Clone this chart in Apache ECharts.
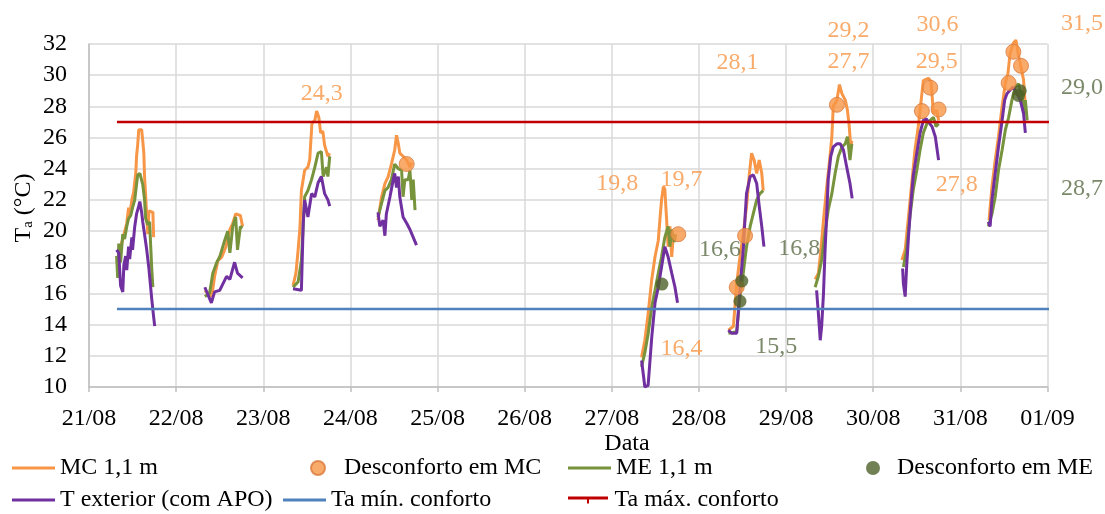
<!DOCTYPE html>
<html>
<head>
<meta charset="utf-8">
<script src="https://cdn.jsdelivr.net/npm/echarts@6/dist/echarts.min.js"></script>
<style>
html,body{margin:0;padding:0;background:#fff;}
#chart{width:1105px;height:514px;}
</style>
</head>
<body>
<div id="chart"></div>
<script>
// x tick labels (one per day, x values are hours since 21/08 00:00)
const dateLabels = ['21/08','22/08','23/08','24/08','25/08','26/08','27/08','28/08','29/08','30/08','31/08','01/09'];
// day index of each measured segment
const segDays = [0,1,2,3,6,7,8,9,10];

// MC 1,1 m : [hour of day, Ta] per segment
const mcSegs = [
  [[7.6,18.0],[8.2,18.3],[8.7,19.0],[9.3,19.5],[9.8,19.4],[10.4,20.5],[10.9,21.5],[11.2,21.0],[11.8,22.0],[12.3,22.5],[12.9,23.8],[13.1,24.8],[13.4,25.5],[13.7,26.5],[14.2,26.6],[14.5,26.5],[14.8,25.8],[15.1,25.0],[15.3,23.5],[15.6,22.3],[15.9,21.0],[16.2,19.8],[16.5,21.3],[17.0,21.4],[17.6,21.2],[17.8,19.6]],
  [[7.9,16.2],[9.8,15.8],[10.6,17.1],[11.5,18.1],[12.6,18.35],[13.7,19.0],[14.8,20.1],[15.6,20.5],[16.4,21.1],[16.9,21.2],[17.7,21.0],[18.3,20.3]],
  [[8.2,16.5],[9.0,17.3],[9.6,18.8],[10.1,20.2],[10.5,22.6],[11.4,23.9],[12.3,24.1],[12.8,24.6],[13.4,26.9],[14.2,27.1],[14.7,27.7],[15.3,27.3],[15.8,26.3],[16.4,26.4],[16.9,25.5],[17.8,24.8],[18.3,25.0]],
  [[7.6,20.7],[8.6,22.2],[9.5,23.05],[10.4,23.5],[11.3,24.3],[12.2,25.2],[12.7,26.15],[13.2,25.6],[13.6,25.0],[14.5,24.8],[15.5,24.55],[16.4,24.1],[16.9,24.4]],
  [[8.2,11.9],[9.1,13.0],[10.0,14.7],[11.0,16.9],[11.9,18.35],[12.8,19.4],[13.3,20.9],[13.7,22.0],[14.2,22.85],[14.6,22.7],[15.1,20.7],[15.5,19.0],[16.0,20.3],[16.5,18.35],[16.9,19.6],[17.4,19.4]],
  [[8.1,13.65],[9.5,13.9],[9.9,15.15],[10.4,16.65],[11.3,18.35],[12.2,19.85],[13.1,21.55],[13.9,23.7],[14.5,25.0],[15.2,24.55],[15.9,23.7],[16.6,24.55],[17.3,23.7],[17.7,22.6]],
  [[8.0,16.9],[8.9,17.3],[9.5,18.6],[10.3,20.7],[11.2,22.85],[12.1,24.8],[12.6,26.05],[13.0,28.0],[14.0,28.4],[14.7,29.4],[15.4,28.8],[16.3,28.4],[16.9,27.75],[17.4,26.7],[17.8,25.4],[18.1,25.8]],
  [[7.9,18.15],[8.8,18.8],[9.7,20.9],[10.6,23.05],[11.5,25.2],[12.4,26.7],[13.4,28.8],[13.8,29.65],[15.2,29.8],[15.9,29.6],[16.6,27.55],[17.5,27.75],[18.0,27.1]],
  [[7.9,20.7],[8.7,22.85],[9.6,24.55],[10.5,26.05],[11.5,28.0],[12.4,29.5],[13.1,30.1],[13.7,31.4],[14.6,32.05],[15.3,32.25],[15.9,31.4],[16.5,30.75],[17.4,29.7],[17.9,28.0]]
];

// ME 1,1 m
const meSegs = [
  [[7.6,18.4],[7.9,17.0],[8.2,19.2],[8.7,18.0],[9.3,19.8],[9.8,19.5],[10.4,20.3],[10.9,20.8],[11.5,21.0],[12.0,21.5],[12.6,22.0],[13.1,23.0],[13.4,23.6],[14.0,23.7],[14.5,23.7],[14.8,23.0],[15.3,22.0],[15.6,20.8],[16.2,20.4],[16.7,20.6],[17.0,19.0],[17.3,17.5],[17.6,16.4]],
  [[7.9,15.8],[9.2,16.0],[10.1,17.3],[11.2,18.0],[12.0,18.35],[13.1,19.2],[14.2,20.0],[14.8,18.6],[15.6,20.3],[16.4,20.9],[16.9,18.8],[17.7,20.3],[18.3,20.2]],
  [[8.2,16.4],[9.6,16.75],[10.5,18.1],[11.4,22.2],[12.3,22.6],[13.3,23.3],[14.2,24.1],[15.1,25.0],[16.0,25.1],[16.5,23.5],[17.4,24.1],[17.8,23.5],[18.3,24.8]],
  [[7.6,20.9],[8.6,21.8],[9.5,22.6],[10.4,22.8],[11.3,23.3],[12.2,24.3],[13.2,24.0],[14.1,23.9],[14.5,22.2],[15.0,23.3],[15.9,23.3],[16.4,23.9],[16.9,22.0],[17.3,23.3],[17.8,21.35]],
  [[8.2,11.3],[9.1,12.2],[10.0,13.4],[11.0,15.15],[11.9,16.2],[12.8,17.3],[13.7,18.35],[14.6,19.6],[15.5,20.3],[16.0,19.0],[16.5,20.1],[17.2,19.3],[17.6,19.8]],
  [[8.1,13.45],[10.4,13.55],[11.3,15.8],[12.2,17.3],[13.1,19.0],[14.1,20.3],[15.0,21.15],[15.9,22.0],[16.8,22.4],[17.7,22.6]],
  [[8.0,16.4],[8.9,17.1],[9.8,18.15],[10.7,19.85],[11.6,21.35],[12.6,22.4],[13.5,23.7],[14.4,24.8],[15.4,25.4],[16.3,25.6],[16.9,26.05],[17.6,24.55],[18.1,25.6]],
  [[8.3,17.7],[9.2,18.8],[10.1,20.9],[11.0,22.6],[12.0,23.9],[12.9,25.2],[13.8,26.3],[14.8,26.9],[15.7,27.1],[16.6,27.3],[17.3,26.7],[18.0,26.9]],
  [[7.7,20.3],[8.7,21.1],[9.6,22.2],[10.5,23.9],[11.5,25.2],[12.4,26.5],[13.3,27.3],[14.2,28.4],[15.1,29.25],[16.0,29.45],[17.0,28.6],[17.4,27.55],[17.9,28.4],[18.4,27.1]]
];

// T exterior (com APO)
const extSegs = [
  [[7.6,18.8],[8.2,18.6],[8.7,16.5],[9.3,16.1],[9.6,17.8],[10.1,18.4],[10.4,17.5],[10.9,19.0],[11.2,18.2],[11.8,19.6],[12.0,18.8],[12.6,20.3],[13.1,21.1],[13.7,21.6],[14.0,21.9],[14.5,21.2],[14.8,20.6],[15.3,19.8],[15.9,18.8],[16.5,17.6],[16.7,17.1],[17.3,15.6],[17.8,14.5],[18.1,13.9]],
  [[7.9,16.4],[9.7,15.4],[10.6,16.1],[12.0,16.2],[13.9,17.1],[14.8,16.9],[16.1,18.0],[16.9,17.3],[18.3,17.0]],
  [[8.2,16.3],[10.5,16.2],[11.0,20.5],[11.4,22.0],[12.3,20.9],[13.3,22.4],[14.2,22.2],[15.1,23.1],[16.0,23.5],[16.9,22.4],[17.8,22.0],[18.3,21.6]],
  [[7.6,21.2],[8.1,20.3],[9.0,20.7],[9.5,19.7],[9.9,21.1],[10.9,22.2],[11.8,23.3],[12.2,23.7],[12.7,22.8],[13.2,23.5],[13.6,22.2],[14.5,20.9],[15.5,20.5],[16.4,20.1],[17.3,19.6],[18.2,19.1]],
  [[8.2,11.7],[9.1,10.0],[10.0,10.1],[11.0,13.2],[11.9,15.4],[12.8,16.4],[13.7,17.7],[14.6,19.0],[15.5,18.35],[16.5,17.3],[17.4,16.4],[18.1,15.4]],
  [[8.1,13.65],[9.0,13.45],[10.4,13.45],[10.8,14.7],[11.3,16.4],[12.2,18.8],[12.7,20.9],[13.1,22.4],[14.1,23.5],[15.0,23.6],[15.9,23.05],[16.6,21.6],[17.3,20.3],[17.9,19.0]],
  [[8.4,16.2],[8.9,14.7],[9.4,13.0],[9.8,13.9],[10.3,16.0],[10.7,18.6],[11.2,21.1],[11.6,23.3],[12.3,24.8],[13.0,25.4],[14.0,25.6],[14.9,25.6],[15.8,25.2],[16.7,24.1],[17.6,23.05],[18.2,22.1]],
  [[8.1,17.6],[8.3,16.65],[8.8,15.8],[9.2,17.7],[9.7,19.6],[10.3,21.55],[11.0,23.5],[12.0,25.0],[12.9,26.3],[13.8,27.1],[14.6,27.2],[15.2,27.0],[16.2,26.7],[17.1,26.05],[18.0,24.55]],
  [[7.7,20.6],[8.2,20.3],[8.7,22.0],[9.6,23.7],[10.5,25.4],[11.5,27.1],[12.2,28.4],[12.8,28.8],[13.7,29.05],[14.6,29.25],[15.6,28.8],[16.5,28.4],[17.4,27.55],[17.9,26.3]]
];

// discomfort points: [hours since 21/08 00:00, Ta]
const descMC = [[87.5,24.3],[162.3,19.8],[180.7,19.7],[178.4,16.4],[206.0,28.1],[231.7,29.2],[229.4,27.7],[234.0,27.8],[254.6,31.5],[256.7,30.6],[253.3,29.5]];
const descME = [[157.8,16.6],[179.8,16.8],[179.3,15.5],[256.5,29.0],[256.0,28.7]];

// comfort limits
const taMin = 15;
const taMax = 27;
const limitSpan = [7.7, 265.0];

// value annotations
const annText  = ['24,3','19,8','19,7','16,4','16,6','15,5','28,1','16,8','29,2','27,7','30,6','29,5','27,8','31,5','29,0','28,7'];
const annHour  = [64.1,145.5,163.2,163.2,173.8,189.3,178.6,195.6,209.2,209.2,233.7,233.5,239.0,273.5,273.5,273.5];
const annTa    = [28.84,23.07,23.3,12.48,18.79,12.58,30.8,18.9,32.85,30.87,33.22,30.87,22.96,33.3,29.2,22.74];
const annGroup = ['mc','mc','mc','mc','me','me','mc','me','mc','mc','mc','mc','mc','mc','me','me'];

const FONT = 'Liberation Serif';
const FS = 24;
const C = {mc:'#F79646', me:'#77933C', ext:'#7030A0', min:'#4F81BD', max:'#C00000', dmc:'#F79646', dme:'#4F6228', annMC:'#F79646', annME:'#5A6B45'};

function build(segs){
  const out = [];
  segs.forEach((s,i)=>{
    if(i>0) out.push(['-','-']);
    s.forEach(p=>out.push([segDays[i]*24 + p[0], p[1]]));
  });
  return out;
}

const annData = annText.map((t,i)=>({
  value:[annHour[i], annTa[i]],
  label:{formatter:t, color: annGroup[i]==='mc' ? C.annMC : C.annME}
}));

function leg(name, left, top, extra){
  return Object.assign({
    data:[name], left:left, top:top, padding:0, itemGap:0,
    itemWidth:43, itemHeight:3, icon:'rect', selectedMode:false,
    textStyle:{fontFamily:FONT, fontSize:FS, color:'#000', lineHeight:26}
  }, extra||{});
}

const chart = echarts.init(document.getElementById('chart'), null, {renderer:'canvas'});
const lineBase = {type:'line', showSymbol:false, symbol:'none', clip:false, connectNulls:false, animation:false};

chart.setOption({
  animation:false,
  backgroundColor:'#fff',
  grid:{left:89, right:57.5, top:44, bottom:127},
  xAxis:{
    type:'value', min:0, max:264, interval:24,
    axisLine:{show:true, lineStyle:{color:'#BFBFBF', width:1.5}},
    axisTick:{show:true, length:5, lineStyle:{color:'#BFBFBF', width:1.5}},
    splitLine:{show:true, lineStyle:{color:'#D9D9D9', width:1.5}},
    axisLabel:{margin:20, fontFamily:FONT, fontSize:FS, color:'#000',
      formatter:function(v){ return dateLabels[Math.round(v/24)] || ''; }}
  },
  yAxis:{
    type:'value', min:10, max:32, interval:2,
    axisLine:{show:true, lineStyle:{color:'#BFBFBF', width:1.5}},
    axisTick:{show:false},
    splitLine:{show:true, lineStyle:{color:'#D9D9D9', width:1.5}},
    axisLabel:{margin:22, fontFamily:FONT, fontSize:FS, color:'#000'}
  },
  legend:[
    leg('MC 1,1 m', 12, 455),
    leg('Desconforto em MC', 310, 455, {icon:'circle', itemWidth:14, itemHeight:14,
      textStyle:{fontFamily:FONT, fontSize:FS, color:'#000', lineHeight:26, padding:[0,0,0,14]}}),
    leg('ME 1,1 m', 568, 455),
    leg('Desconforto em ME', 866, 455, {icon:'circle', itemWidth:14, itemHeight:14,
      textStyle:{fontFamily:FONT, fontSize:FS, color:'#000', lineHeight:26, padding:[0,0,0,12]}}),
    leg('T exterior (com APO)', 12, 487),
    leg('Ta mín. conforto', 283, 487),
    leg('Ta máx. conforto', 568, 487, {icon:'path://M0,0H40V3H0Z M19,3H21V7H19Z', itemHeight:7})
  ],
  graphic:[
    {type:'text', x:22, y:208, rotation:Math.PI/2,
      style:{text:'{a|T}{b|a}{a| (°C)}', align:'center', verticalAlign:'middle',
        rich:{a:{fontFamily:FONT, fontSize:FS, fill:'#000', lineHeight:28, verticalAlign:'bottom'},
              b:{fontFamily:FONT, fontSize:15, fill:'#000', lineHeight:15, verticalAlign:'bottom'}}}},
    {type:'text', x:627, y:444,
      style:{text:'Data', fontFamily:FONT, fontSize:FS, fill:'#000', align:'center', verticalAlign:'middle'}}
  ],
  series:[
    Object.assign({}, lineBase, {name:'MC 1,1 m', data:build(mcSegs), color:C.mc, lineStyle:{width:3, color:C.mc}, z:2}),
    {name:'Desconforto em MC', type:'scatter', data:descMC, symbol:'circle', symbolSize:15, clip:false,
      itemStyle:{color:C.dmc, borderColor:'#D97A3E', borderWidth:1}, z:6},
    Object.assign({}, lineBase, {name:'ME 1,1 m', data:build(meSegs), color:C.me, lineStyle:{width:3, color:C.me}, z:3}),
    {name:'Desconforto em ME', type:'scatter', data:descME, symbol:'circle', symbolSize:13, clip:false,
      itemStyle:{color:C.dme}, z:7},
    Object.assign({}, lineBase, {name:'T exterior (com APO)', data:build(extSegs), color:C.ext, lineStyle:{width:3, color:C.ext}, z:4}),
    Object.assign({}, lineBase, {name:'Ta mín. conforto', data:limitSpan.map(h=>[h,taMin]), color:C.min, lineStyle:{width:2.5, color:C.min}, z:5}),
    Object.assign({}, lineBase, {name:'Ta máx. conforto', data:limitSpan.map(h=>[h,taMax]), color:C.max, lineStyle:{width:2.5, color:C.max}, z:5}),
    {name:'annotations', type:'scatter', data:annData, symbolSize:1, clip:false, silent:true,
      itemStyle:{color:'rgba(0,0,0,0)'}, z:8,
      label:{show:true, position:'inside', fontFamily:FONT, fontSize:FS}}
  ]
});
</script>
</body>
</html>
